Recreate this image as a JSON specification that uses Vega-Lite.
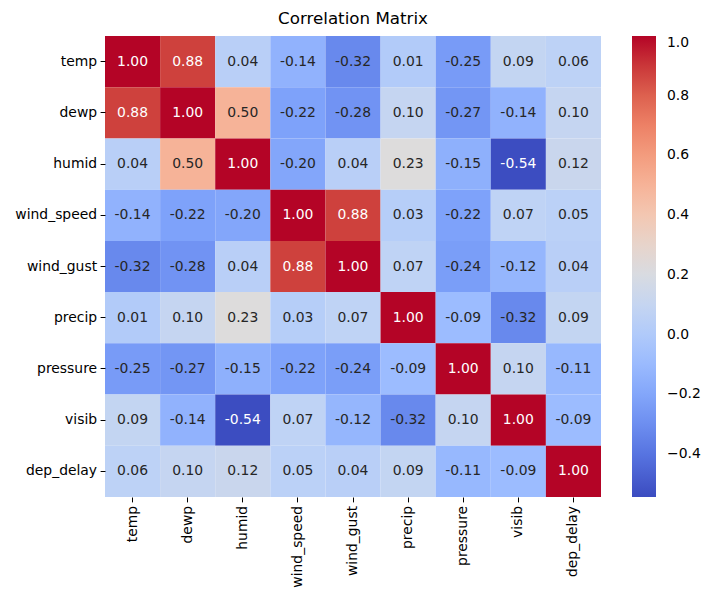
{
  "$schema": "https://vega.github.io/schema/vega-lite/v6.json",
  "width": 496,
  "height": 461,
  "autosize": "none",
  "padding": {"left": 105, "top": 36, "right": 124, "bottom": 103},
  "background": "white",
  "title": {"text": "Correlation Matrix", "fontSize": 16.7, "fontWeight": "normal", "font": "DejaVu Sans", "color": "#000000", "anchor": "middle", "offset": 8},
  "config": {
    "view": {"stroke": null},
    "font": "DejaVu Sans",
    "axis": {"labelFont": "DejaVu Sans", "labelFontSize": 13.9, "labelColor": "#000000", "tickColor": "#000000", "tickSize": 4.9, "tickWidth": 1, "labelPadding": 3.5, "domain": false, "grid": false, "title": null}
  },
  "data": {"values": [
    {"r":"temp","c":"temp","v":1.00},{"r":"temp","c":"dewp","v":0.88},{"r":"temp","c":"humid","v":0.04},{"r":"temp","c":"wind_speed","v":-0.14},{"r":"temp","c":"wind_gust","v":-0.32},{"r":"temp","c":"precip","v":0.01},{"r":"temp","c":"pressure","v":-0.25},{"r":"temp","c":"visib","v":0.09},{"r":"temp","c":"dep_delay","v":0.06},
    {"r":"dewp","c":"temp","v":0.88},{"r":"dewp","c":"dewp","v":1.00},{"r":"dewp","c":"humid","v":0.50},{"r":"dewp","c":"wind_speed","v":-0.22},{"r":"dewp","c":"wind_gust","v":-0.28},{"r":"dewp","c":"precip","v":0.10},{"r":"dewp","c":"pressure","v":-0.27},{"r":"dewp","c":"visib","v":-0.14},{"r":"dewp","c":"dep_delay","v":0.10},
    {"r":"humid","c":"temp","v":0.04},{"r":"humid","c":"dewp","v":0.50},{"r":"humid","c":"humid","v":1.00},{"r":"humid","c":"wind_speed","v":-0.20},{"r":"humid","c":"wind_gust","v":0.04},{"r":"humid","c":"precip","v":0.23},{"r":"humid","c":"pressure","v":-0.15},{"r":"humid","c":"visib","v":-0.54},{"r":"humid","c":"dep_delay","v":0.12},
    {"r":"wind_speed","c":"temp","v":-0.14},{"r":"wind_speed","c":"dewp","v":-0.22},{"r":"wind_speed","c":"humid","v":-0.20},{"r":"wind_speed","c":"wind_speed","v":1.00},{"r":"wind_speed","c":"wind_gust","v":0.88},{"r":"wind_speed","c":"precip","v":0.03},{"r":"wind_speed","c":"pressure","v":-0.22},{"r":"wind_speed","c":"visib","v":0.07},{"r":"wind_speed","c":"dep_delay","v":0.05},
    {"r":"wind_gust","c":"temp","v":-0.32},{"r":"wind_gust","c":"dewp","v":-0.28},{"r":"wind_gust","c":"humid","v":0.04},{"r":"wind_gust","c":"wind_speed","v":0.88},{"r":"wind_gust","c":"wind_gust","v":1.00},{"r":"wind_gust","c":"precip","v":0.07},{"r":"wind_gust","c":"pressure","v":-0.24},{"r":"wind_gust","c":"visib","v":-0.12},{"r":"wind_gust","c":"dep_delay","v":0.04},
    {"r":"precip","c":"temp","v":0.01},{"r":"precip","c":"dewp","v":0.10},{"r":"precip","c":"humid","v":0.23},{"r":"precip","c":"wind_speed","v":0.03},{"r":"precip","c":"wind_gust","v":0.07},{"r":"precip","c":"precip","v":1.00},{"r":"precip","c":"pressure","v":-0.09},{"r":"precip","c":"visib","v":-0.32},{"r":"precip","c":"dep_delay","v":0.09},
    {"r":"pressure","c":"temp","v":-0.25},{"r":"pressure","c":"dewp","v":-0.27},{"r":"pressure","c":"humid","v":-0.15},{"r":"pressure","c":"wind_speed","v":-0.22},{"r":"pressure","c":"wind_gust","v":-0.24},{"r":"pressure","c":"precip","v":-0.09},{"r":"pressure","c":"pressure","v":1.00},{"r":"pressure","c":"visib","v":0.10},{"r":"pressure","c":"dep_delay","v":-0.11},
    {"r":"visib","c":"temp","v":0.09},{"r":"visib","c":"dewp","v":-0.14},{"r":"visib","c":"humid","v":-0.54},{"r":"visib","c":"wind_speed","v":0.07},{"r":"visib","c":"wind_gust","v":-0.12},{"r":"visib","c":"precip","v":-0.32},{"r":"visib","c":"pressure","v":0.10},{"r":"visib","c":"visib","v":1.00},{"r":"visib","c":"dep_delay","v":-0.09},
    {"r":"dep_delay","c":"temp","v":0.06},{"r":"dep_delay","c":"dewp","v":0.10},{"r":"dep_delay","c":"humid","v":0.12},{"r":"dep_delay","c":"wind_speed","v":0.05},{"r":"dep_delay","c":"wind_gust","v":0.04},{"r":"dep_delay","c":"precip","v":0.09},{"r":"dep_delay","c":"pressure","v":-0.11},{"r":"dep_delay","c":"visib","v":-0.09},{"r":"dep_delay","c":"dep_delay","v":1.00}
  ]},
  "encoding": {
    "x": {"field": "c", "type": "nominal", "sort": ["temp","dewp","humid","wind_speed","wind_gust","precip","pressure","visib","dep_delay"], "scale": {"paddingInner": 0, "paddingOuter": 0}, "axis": {"labelAngle": -90, "orient": "bottom"}},
    "y": {"field": "r", "type": "nominal", "sort": ["temp","dewp","humid","wind_speed","wind_gust","precip","pressure","visib","dep_delay"], "scale": {"paddingInner": 0, "paddingOuter": 0}}
  },
  "layer": [
    {
      "mark": {"type": "rect"},
      "encoding": {
        "color": {
          "field": "v", "type": "quantitative",
          "scale": {
            "domain": [-0.544, -0.3896, -0.2352, -0.0808, 0.0736, 0.228, 0.3824, 0.5368, 0.6912, 0.8456, 1.0],
            "range": ["#3b4cc0","#5977e3","#7b9ff9","#9ebeff","#c0d4f5","#dddcdc","#f2cbb7","#f7ac8e","#ee8468","#d65244","#b40426"],
            "interpolate": "rgb",
            "clamp": true
          },
          "legend": {
            "title": null,
            "orient": "none",
            "legendX": 527,
            "legendY": 0,
            "direction": "vertical",
            "gradientLength": 461,
            "gradientThickness": 24,
            "gradientStrokeWidth": 0,
            "values": [-0.4, -0.2, 0.0, 0.2, 0.4, 0.6, 0.8, 1.0],
            "format": ".1f",
            "labelFontSize": 13.9,
            "labelFont": "DejaVu Sans",
            "labelColor": "#000000",
            "labelOffset": 11,
            "labelOverlap": false,
            "padding": 0
          }
        }
      }
    },
    {
      "mark": {"type": "text", "fontSize": 13.9, "font": "DejaVu Sans"},
      "encoding": {
        "text": {"value": {"expr": "replace(format(datum.v, '.2f'), '−', '-')"}},
        "color": {
          "condition": {"test": "datum.v > 0.7 || datum.v < -0.45", "value": "#ffffff"},
          "value": "#262626"
        }
      }
    }
  ]
}
